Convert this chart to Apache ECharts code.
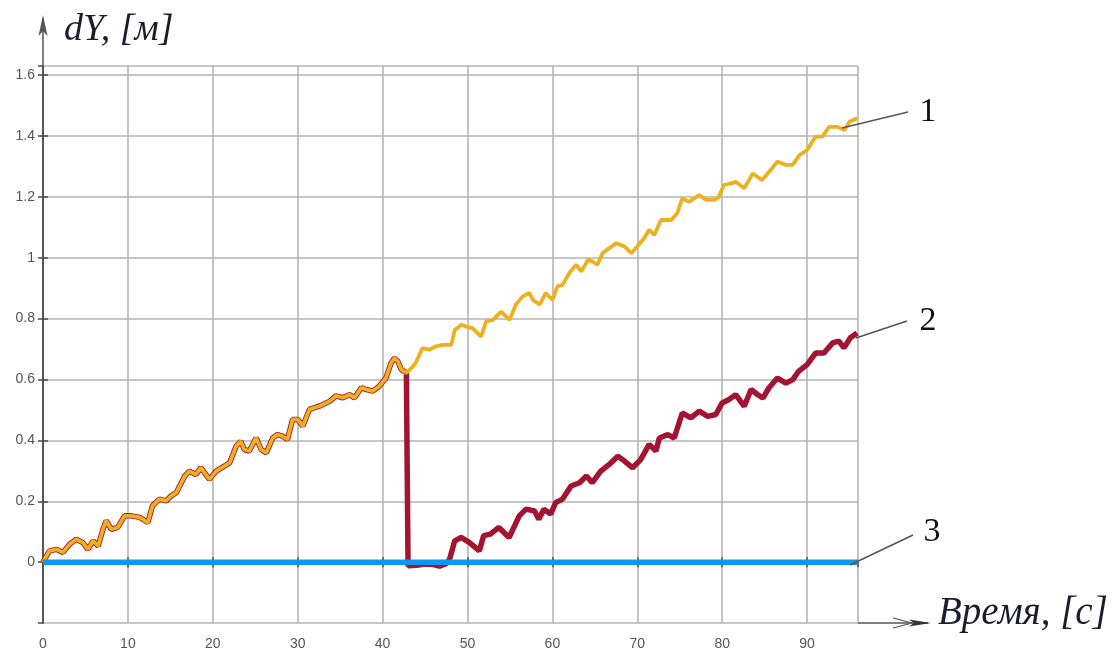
<!DOCTYPE html>
<html>
<head>
<meta charset="utf-8">
<script src="https://cdn.jsdelivr.net/npm/echarts@6/dist/echarts.min.js"></script>
<style>
html,body{margin:0;padding:0;background:#fff;}
#c{width:1118px;height:652px;}
</style>
</head>
<body>
<div id="c"></div>
<script>
// ---- data ----
// shared part of curves 1 and 2 (before t = 43 s)
const sharedTime = [0,0.4,0.78,1.57,2.35,3.14,3.92,4.7,5.3,5.9,6.5,7.06,7.45,8.04,8.8,9.6,10.4,11.4,12.35,12.9,13.7,14.5,15.1,15.7,16.1,16.7,17.25,18.0,18.6,19.6,20.4,21.4,22.0,22.75,23.3,23.7,24.3,25.1,25.7,26.3,27.06,27.6,28.2,28.8,29.4,30.0,30.6,31.4,32.6,33.8,34.5,35.3,36.1,36.7,37.5,38.1,38.85,39.6,40.4,41.0,41.4,41.8,42.2,42.8];
const sharedDY = [0,0.02,0.037,0.042,0.032,0.059,0.075,0.064,0.042,0.07,0.053,0.108,0.136,0.108,0.114,0.152,0.152,0.147,0.13,0.185,0.207,0.201,0.218,0.228,0.25,0.283,0.299,0.288,0.31,0.272,0.299,0.316,0.327,0.381,0.397,0.37,0.365,0.408,0.37,0.359,0.408,0.419,0.414,0.403,0.469,0.469,0.447,0.502,0.513,0.529,0.546,0.54,0.55,0.54,0.573,0.567,0.562,0.578,0.605,0.654,0.67,0.66,0.633,0.622];
// curve 1 after 43 s
const tail1Time = [43.4,43.9,44.7,45.5,46.3,47.1,48.1,48.5,49.3,49.8,50.6,51.6,52.2,53.0,53.96,54.96,55.7,56.5,57.3,57.7,58.5,59.2,60.0,60.6,61.2,62.0,62.8,63.4,64.2,64.7,65.3,65.9,67.5,68.5,69.3,70.0,70.8,71.4,72.0,72.8,74.0,74.7,75.3,76.1,77.3,78.1,79.1,79.6,80.2,81.2,81.6,82.6,83.6,84.7,85.7,86.5,87.5,88.3,89.1,90.0,91.0,91.8,92.6,93.6,94.4,95.0,95.9];
const tail1DY = [0.638,0.654,0.703,0.698,0.709,0.714,0.714,0.763,0.78,0.774,0.769,0.741,0.791,0.796,0.823,0.796,0.846,0.873,0.884,0.862,0.846,0.884,0.862,0.906,0.911,0.95,0.977,0.955,0.993,0.988,0.977,1.015,1.048,1.037,1.015,1.037,1.064,1.092,1.075,1.124,1.124,1.146,1.195,1.184,1.206,1.19,1.19,1.2,1.239,1.245,1.25,1.228,1.277,1.255,1.288,1.316,1.305,1.305,1.337,1.354,1.398,1.398,1.43,1.43,1.42,1.447,1.458];
// curve 2 after the drop at 43 s
const tail2Time = [43.0,44.0,45.0,46.0,46.7,47.5,47.9,48.5,49.25,50.2,51.4,51.9,52.7,53.7,54.9,56.1,56.9,57.9,58.4,59.0,59.8,60.4,61.2,62.2,63.2,64.0,64.7,65.7,66.7,67.7,68.5,69.45,70.4,71.4,72.2,72.6,73.6,74.35,75.3,76.3,77.3,78.3,79.25,80.0,80.8,81.6,82.6,83.4,84.2,84.8,85.5,86.5,87.5,88.3,89.0,90.0,91.0,92.0,93.0,93.75,94.35,95.1,95.9];
const tail2DY = [-0.012,-0.01,-0.006,-0.008,-0.013,-0.005,0.01,0.07,0.081,0.065,0.037,0.087,0.092,0.114,0.081,0.152,0.174,0.168,0.141,0.174,0.158,0.196,0.207,0.25,0.261,0.283,0.261,0.299,0.321,0.348,0.332,0.31,0.337,0.387,0.365,0.408,0.419,0.408,0.49,0.474,0.496,0.479,0.485,0.523,0.534,0.55,0.512,0.567,0.55,0.539,0.572,0.605,0.588,0.599,0.627,0.649,0.687,0.687,0.72,0.726,0.704,0.737,0.753];
// curve 3
const line3Time = [0, 96];
const line3DY = [0, 0];
// axes
const xMin = 0, xMax = 96, xStep = 10;
const yMin = -0.2, yMax = 1.63, yStep = 0.2;
const curveLabels = ['1', '2', '3'];
const yTitle = 'dY, [м]';
const xTitle = 'Время, [с]';

// ---- build series data ----
const zip = (a, b) => a.map((v, i) => [v, b[i]]);
const data1 = zip(sharedTime, sharedDY).concat(zip(tail1Time, tail1DY));
const data2 = zip(sharedTime, sharedDY).concat(zip(tail2Time, tail2DY));
const data3 = zip(line3Time, line3DY);

const chart = echarts.init(document.getElementById('c'));
const gridColor = '#b5b5b5';
const frameColor = '#4a4a4a';
const tickLblStyle = { color: '#555', fontFamily: 'Liberation Sans, Arial, sans-serif', fontSize: 14 };

function yFmt(v) {
  if (v < -0.1 || v > 1.61) return '';
  const r = Math.round(v / yStep) * yStep;
  if (Math.abs(r - v) > 1e-6) return '';
  return String(parseFloat(r.toFixed(1)));
}
function xFmt(v) {
  if (v % xStep !== 0 || v > 90) return '';
  return String(v);
}

const baseX = {
  type: 'value', min: xMin, max: xMax, interval: xStep,
  axisLine: { show: true, lineStyle: { color: frameColor, width: 1.5 } },
  axisTick: { show: true, inside: true, length: 5, lineStyle: { color: frameColor, width: 1.5 } },
  splitLine: { show: false }
};
const baseY = {
  type: 'value', min: yMin, max: yMax, interval: yStep,
  axisLine: { show: true, lineStyle: { color: frameColor, width: 1.5 } },
  axisTick: { show: true, inside: true, length: 5, lineStyle: { color: frameColor, width: 1.5 } },
  splitLine: { show: false }
};

chart.setOption({
  animation: false,
  backgroundColor: '#fff',
  grid: { left: 43, right: 260, top: 66, bottom: 29, show: false },
  xAxis: [
    Object.assign({}, baseX, {
      position: 'bottom',
      splitLine: { show: true, lineStyle: { color: gridColor, width: 1.6 } },
      axisLabel: Object.assign({ margin: 14, formatter: xFmt, showMaxLabel: false }, tickLblStyle)
    }),
    Object.assign({}, baseX, {
      position: 'top',
      axisLine: { show: true, lineStyle: { color: '#777', width: 1.2 } },
      axisLabel: { show: false }
    })
  ],
  yAxis: [
    Object.assign({}, baseY, {
      position: 'left',
      splitLine: { show: true, lineStyle: { color: gridColor, width: 1.6 } },
      axisLabel: Object.assign({ margin: 8, formatter: yFmt, showMinLabel: false, showMaxLabel: false }, tickLblStyle)
    }),
    Object.assign({}, baseY, {
      position: 'right',
      axisLine: { show: true, lineStyle: { color: '#555', width: 2 } },
      axisLabel: { show: false }
    })
  ],
  series: [
    {
      name: '2', type: 'line', data: data2, showSymbol: false, symbol: 'none',
      lineStyle: { color: '#A2142F', width: 5.5 }, z: 2
    },
    {
      name: '1', type: 'line', data: data1, showSymbol: false, symbol: 'none',
      lineStyle: { color: '#EDB120', width: 3.8 }, z: 3
    },
    {
      name: '3', type: 'line', data: data3, showSymbol: false, symbol: 'none',
      lineStyle: { color: '#0b98ee', width: 5.5 }, z: 4
    }
  ]
});

// ---- decorations: axis arrows, titles, curve labels with leader lines ----
const lineCol = '#555';
const serif = 'Liberation Serif, DejaVu Serif, serif';
const labelPos = [
  { from: [842, 128], to: [908, 112], text: [928, 112] },
  { from: [856, 338], to: [907, 321], text: [928, 321] },
  { from: [850, 565], to: [913, 535], text: [932, 532] }
];
const graphics = [
  // y arrow
  { type: 'line', shape: { x1: 43, y1: 66, x2: 43, y2: 18 }, style: { stroke: lineCol, lineWidth: 1.5 }, z: 10 },
  { type: 'polygon', shape: { points: [[43, 15], [47.5, 36], [43, 31], [38.5, 36]] }, style: { fill: lineCol }, z: 10 },
  // x arrow
  { type: 'line', shape: { x1: 858, y1: 623, x2: 928, y2: 623 }, style: { stroke: lineCol, lineWidth: 1.5 }, z: 10 },
  { type: 'polyline', shape: { points: [[893, 618], [912, 623], [893, 628]] }, style: { stroke: lineCol, lineWidth: 1.2, fill: null }, z: 10 },
  { type: 'polygon', shape: { points: [[931, 623], [909, 619.5], [914, 623], [909, 626.5]] }, style: { fill: '#333' }, z: 10 },
  // titles
  { type: 'text', left: 64, top: 11, style: { text: yTitle, font: 'italic 38px ' + serif, fill: '#1c1c2c' }, z: 10 },
  { type: 'text', left: 938, top: 594, style: { text: xTitle, font: 'italic 39px ' + serif, fill: '#1c1c2c' }, z: 10 }
];
labelPos.forEach((p, i) => {
  graphics.push({ type: 'line', shape: { x1: p.from[0], y1: p.from[1], x2: p.to[0], y2: p.to[1] }, style: { stroke: lineCol, lineWidth: 1.5 }, z: 10 });
  graphics.push({ type: 'text', x: p.text[0], y: p.text[1], style: { text: curveLabels[i], font: '34px ' + serif, fill: '#111', align: 'center', verticalAlign: 'middle' }, z: 10 });
});
chart.setOption({ graphic: graphics });
</script>
</body>
</html>
